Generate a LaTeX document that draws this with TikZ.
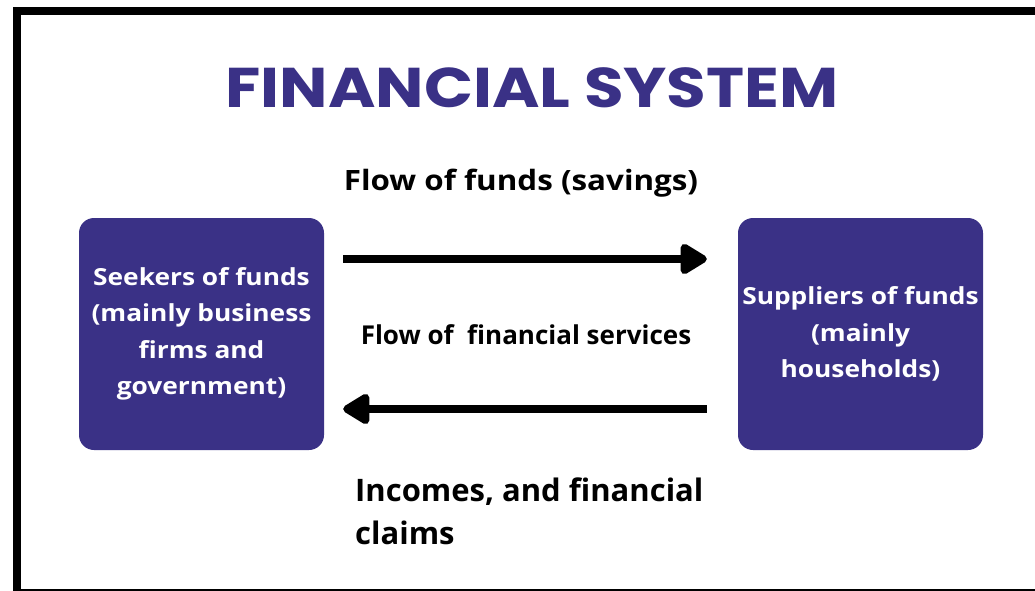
\documentclass[tikz,border=0pt]{standalone}
\usepackage{fontspec}
\setmainfont{Open Sans}
\newfontfamily\headfont{Poppins}[FakeStretch=1.15]
\newfontfamily\widefont{Open Sans}[FakeStretch=1.12]
\usetikzlibrary{arrows.meta}
\definecolor{fsblue}{RGB}{58,49,134}

\begin{document}
\begin{tikzpicture}
  [x=1pt, y=-1pt,
   party/.style={fill=fsblue, rounded corners=15pt, minimum width=245pt, minimum height=232pt,
                 text=white, align=center, font=\widefont\fontsize{23.5}{36.5}\selectfont\bfseries},
   flowlabel/.style={font=\fontsize{26}{30}\selectfont\bfseries},
   flowarrow/.style={line width=8pt, -{Triangle[length=30pt, width=34pt, round]}}]
  \useasboundingbox (0,0) rectangle (1035,591);
  \draw[line width=8pt] (17,11) rectangle (1045,593);
  \node[text=fsblue, font=\headfont\fontsize{56}{60}\selectfont\bfseries] (title) at (532,88) {FINANCIAL SYSTEM};
  \node[party] (seek) at (201.5,334) {Seekers of funds\\(mainly business\\firms and\\government)};
  \node[party] (supp) at (860.5,334) {Suppliers of funds\\(mainly\\households)};
  \node[flowlabel, font=\widefont\fontsize{28}{30}\selectfont\bfseries] (savings) at (521,183) {Flow of funds (savings)};
  \node[flowlabel] (services) at (526,335) {Flow of~~financial services};
  \node[flowlabel, font=\fontsize{31}{43}\selectfont\bfseries, align=left, anchor=west, inner sep=0pt] (claims) at (355,511) {Incomes, and financial\\claims};
  \draw[flowarrow, shorten <=19pt, shorten >=31pt] ([yshift=75pt]seek.east) -- ([yshift=75pt]supp.west);
  \draw[flowarrow, shorten <=31pt, shorten >=19pt] ([yshift=-75pt]supp.west) -- ([yshift=-75pt]seek.east);
\end{tikzpicture}
\end{document}
